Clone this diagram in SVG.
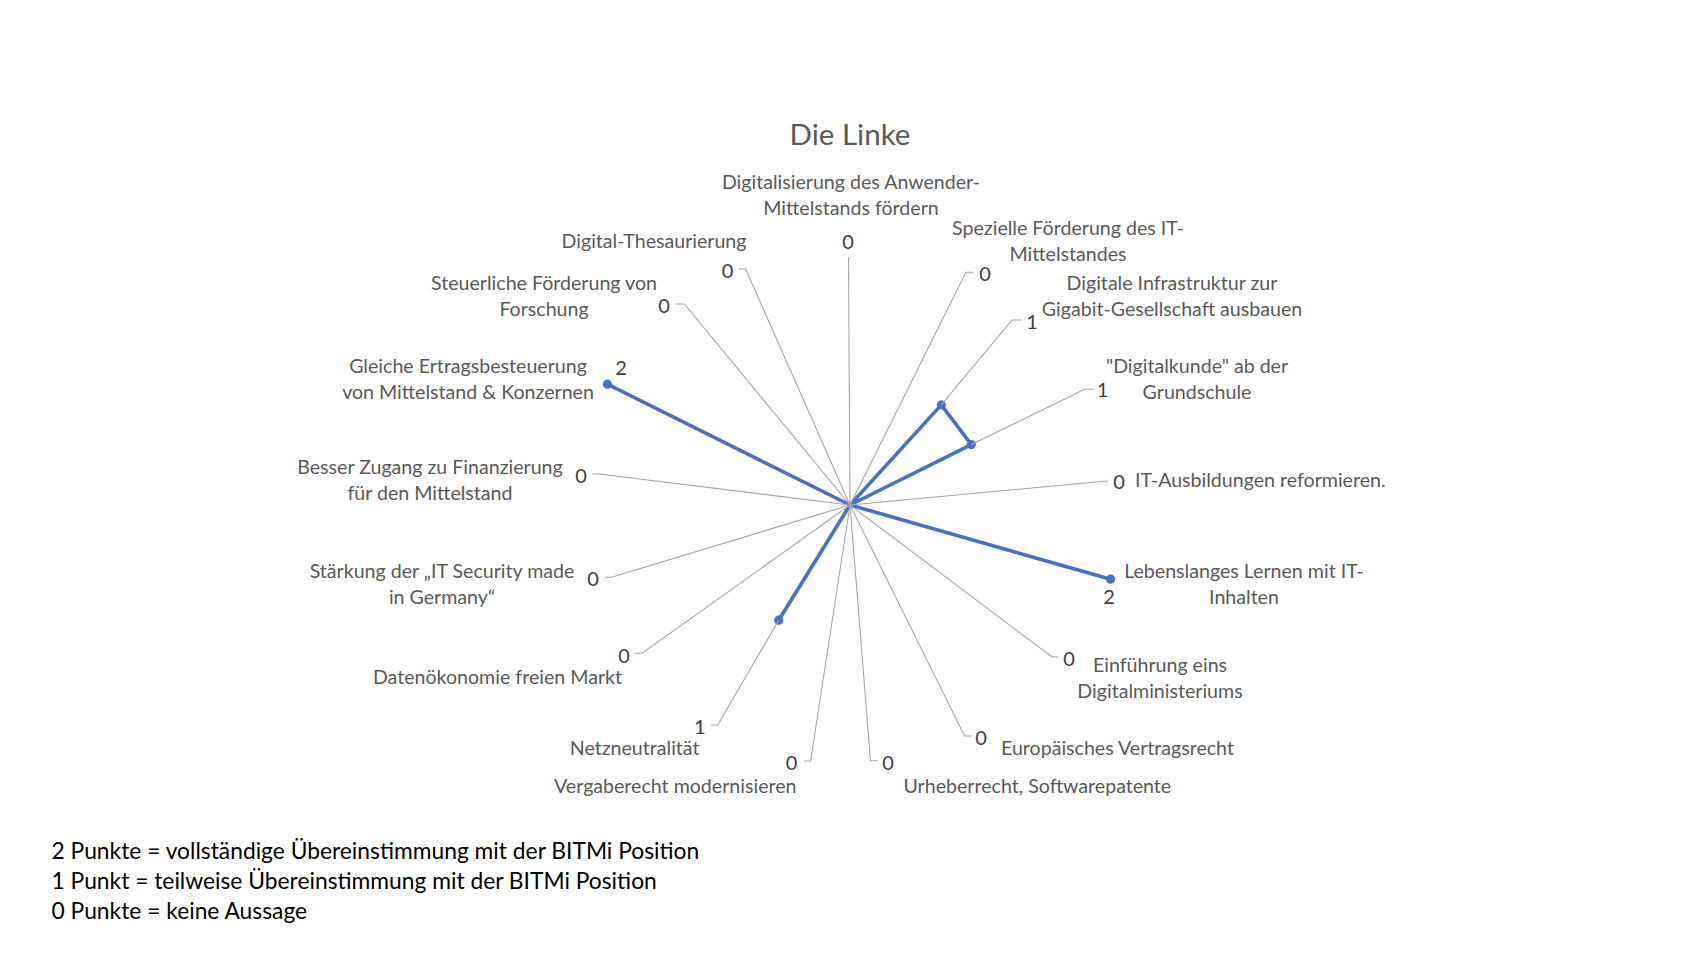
<svg xmlns="http://www.w3.org/2000/svg" width="1700" height="956" viewBox="0 0 1700 956">
<style>
  .lbl { font-family: Lato, "Liberation Sans", sans-serif; font-size: 19.6px; fill: #595959; }
  .val { font-family: Lato, "Liberation Sans", sans-serif; font-size: 20px; fill: #404040; text-anchor: middle; }
  .mid { text-anchor: middle; }
  .end { text-anchor: end; }
  .title { font-family: Lato, "Liberation Sans", sans-serif; font-size: 29.5px; fill: #595959; text-anchor: middle; }
  .legend { font-family: Lato, "Liberation Sans", sans-serif; font-size: 22.8px; fill: #000000; }
  .leader { fill: none; stroke: #A6A6A6; stroke-width: 1.1; }
  .series { fill: none; stroke: #4472C4; stroke-width: 3.6; stroke-linejoin: round; }
  .dot { fill: #4472C4; }
</style>
<rect x="0" y="0" width="1700" height="956" fill="#FFFFFF"/>
<text class="title" x="850" y="145">Die Linke</text>

<g id="series">
  <path class="series" d="M850 505 L941.3 404.9 L971.3 444.6 L850 505 L1110.6 579.2 L850 505 L778.7 620.2 L850 505 L607.4 384.2 Z"/>
  <circle class="dot" cx="941.3" cy="404.9" r="4.6"/>
  <circle class="dot" cx="971.3" cy="444.6" r="4.6"/>
  <circle class="dot" cx="1110.6" cy="579.2" r="4.6"/>
  <circle class="dot" cx="778.7" cy="620.2" r="4.6"/>
  <circle class="dot" cx="607.4" cy="384.2" r="4.6"/>
</g>

<g id="connectors">
  <polyline class="leader" points="848.5,257 850,505"/>
  <polyline class="leader" points="973.6,272.3 966,272.3 850,505"/>
  <polyline class="leader" points="1021.5,320 1012,320 941.3,404.9"/>
  <polyline class="leader" points="1094,389.3 1084.6,389.3 971.3,444.6"/>
  <polyline class="leader" points="1108,481 1101,481.5 850,505"/>
  <polyline class="leader" points="1058,657 1052,657 850,505"/>
  <polyline class="leader" points="971.7,736 964.6,736 850,505"/>
  <polyline class="leader" points="877.5,760.7 870.5,760.7 850,505"/>
  <polyline class="leader" points="804,761 810.6,761 850,505"/>
  <polyline class="leader" points="711,725 717.7,725 778.7,620.2"/>
  <polyline class="leader" points="634.6,653.3 642,653.3 850,505"/>
  <polyline class="leader" points="605,577.3 611.6,577.3 850,505"/>
  <polyline class="leader" points="592.5,474 599,474 850,505"/>
  <polyline class="leader" points="675.6,304 684.4,304 850,505"/>
  <polyline class="leader" points="739,269 745.6,269 850,505"/>
</g>

<g id="n01">
  <text class="lbl mid" x="851" y="189.3">Digitalisierung des Anwender-</text>
  <text class="lbl mid" x="851" y="215.3">Mittelstands fördern</text>
  <text class="val" x="848" y="249">0</text>
</g>
<g id="n02">
  <text class="lbl mid" x="1068" y="235.3">Spezielle Förderung des IT-</text>
  <text class="lbl mid" x="1068" y="261.3">Mittelstandes</text>
  <text class="val" x="985" y="281">0</text>
</g>
<g id="n03">
  <text class="lbl mid" x="1172" y="290">Digitale Infrastruktur zur</text>
  <text class="lbl mid" x="1172" y="316">Gigabit-Gesellschaft ausbauen</text>
  <text class="val" x="1032" y="328.5">1</text>
</g>
<g id="n04">
  <text class="lbl mid" x="1197" y="373">"Digitalkunde" ab der</text>
  <text class="lbl mid" x="1197" y="399">Grundschule</text>
  <text class="val" x="1102.6" y="397">1</text>
</g>
<g id="n05">
  <text class="lbl" x="1135" y="487">IT-Ausbildungen reformieren.</text>
  <text class="val" x="1119" y="489">0</text>
</g>
<g id="n06">
  <text class="lbl mid" x="1244" y="578">Lebenslanges Lernen mit IT-</text>
  <text class="lbl mid" x="1244" y="604">Inhalten</text>
  <text class="val" x="1109" y="604">2</text>
</g>
<g id="n07">
  <text class="lbl mid" x="1160" y="672">Einführung eins</text>
  <text class="lbl mid" x="1160" y="698">Digitalministeriums</text>
  <text class="val" x="1069" y="666">0</text>
</g>
<g id="n08">
  <text class="lbl" x="1001" y="755">Europäisches Vertragsrecht</text>
  <text class="val" x="981" y="745">0</text>
</g>
<g id="n09">
  <text class="lbl" x="903.5" y="793">Urheberrecht, Softwarepatente</text>
  <text class="val" x="888" y="770">0</text>
</g>
<g id="n10">
  <text class="lbl end" x="796.5" y="793">Vergaberecht modernisieren</text>
  <text class="val" x="791.5" y="770">0</text>
</g>
<g id="n11">
  <text class="lbl end" x="699.5" y="755">Netzneutralität</text>
  <text class="val" x="699.7" y="734">1</text>
</g>
<g id="n12">
  <text class="lbl end" x="622" y="684">Datenökonomie freien Markt</text>
  <text class="val" x="624" y="663">0</text>
</g>
<g id="n13">
  <text class="lbl mid" x="442" y="578">Stärkung der „IT Security made</text>
  <text class="lbl mid" x="442" y="604">in Germany“</text>
  <text class="val" x="593" y="586">0</text>
</g>
<g id="n14">
  <text class="lbl mid" x="430" y="474">Besser Zugang zu Finanzierung</text>
  <text class="lbl mid" x="430" y="500">für den Mittelstand</text>
  <text class="val" x="581" y="483">0</text>
</g>
<g id="n15">
  <text class="lbl mid" x="468" y="373">Gleiche Ertragsbesteuerung</text>
  <text class="lbl mid" x="468" y="399">von Mittelstand &amp; Konzernen</text>
  <text class="val" x="621" y="375">2</text>
</g>
<g id="n16">
  <text class="lbl mid" x="544" y="290">Steuerliche Förderung von</text>
  <text class="lbl mid" x="544" y="316">Forschung</text>
  <text class="val" x="664" y="313">0</text>
</g>
<g id="n17">
  <text class="lbl end" x="746.5" y="248">Digital-Thesaurierung</text>
  <text class="val" x="727.6" y="278">0</text>
</g>

<g id="legend">
  <text class="legend" x="51.5" y="859">2 Punkte = vollständige Übereinstimmung mit der BITMi Position</text>
  <text class="legend" x="51.5" y="888.8">1 Punkt = teilweise Übereinstimmung mit der BITMi Position</text>
  <text class="legend" x="51.5" y="918.6">0 Punkte = keine Aussage</text>
</g>
</svg>
